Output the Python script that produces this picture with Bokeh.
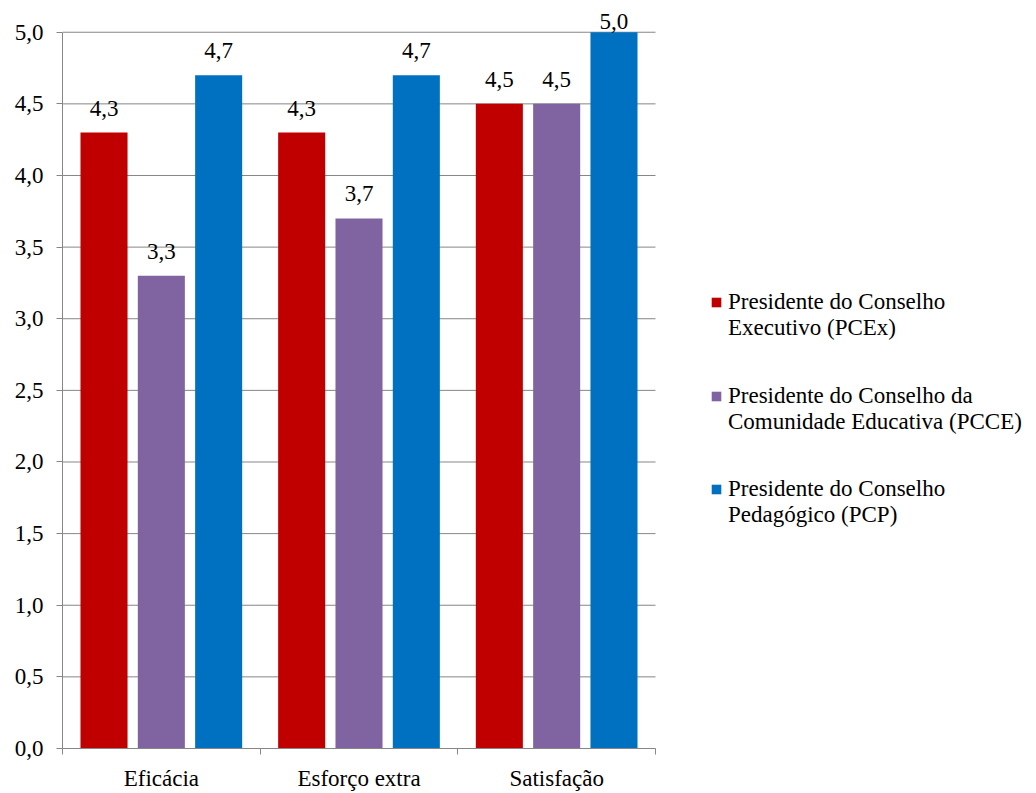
from bokeh.plotting import figure
from bokeh.models import (ColumnDataSource, Range1d, FixedTicker, LabelSet,
                          Legend, LegendItem)
from bokeh.transform import dodge
from bokeh.embed import file_html
from bokeh.resources import INLINE

# Dimensions of leadership outcome and mean scores per respondent group
categories = ["Eficácia", "Esforço extra", "Satisfação"]
series_names = [
    ["Presidente do Conselho", "Executivo (PCEx)"],
    ["Presidente do Conselho da", "Comunidade Educativa (PCCE)"],
    ["Presidente do Conselho", "Pedagógico (PCP)"],
]
pcex = [4.3, 4.3, 4.5]
pcce = [3.3, 3.7, 4.5]
pcp = [4.7, 4.7, 5.0]
colors = ["#C00000", "#8064A2", "#0070C0"]
y_ticks = [0.0, 0.5, 1.0, 1.5, 2.0, 2.5, 3.0, 3.5, 4.0, 4.5, 5.0]

FONT = "'Liberation Serif', 'Times New Roman', serif"
FSIZE = "23px"
GRID = "#868686"

W, H = 1036, 793
LEFT, BOTTOM = 62, 39          # room for the tick labels
AX_W, AX_H = 593, 722          # drawn extent of the value axes
YMAX = 5.0
NCAT = len(categories)

def fmt(v):
    return f"{v:.1f}".replace(".", ",")

px_x = AX_W / NCAT
px_y = AX_H / YMAX
xpos = [i + 0.5 for i in range(NCAT)]

# The frame spans the whole canvas so labels and legend are not clipped;
# axis bounds limit the drawn chart area.
p = figure(width=W, height=H, output_backend="svg", toolbar_location=None,
           x_range=Range1d(0, (W - LEFT) / px_x),
           y_range=Range1d(0, (H - BOTTOM) / px_y),
           min_border_left=LEFT, min_border_right=0, min_border_top=0,
           min_border_bottom=BOTTOM)
p.outline_line_color = None
p.background_fill_color = "white"
p.border_fill_color = "white"

# horizontal gridlines across the category span only
p.xgrid.grid_line_color = None
p.ygrid.grid_line_color = None
p.segment(x0=[0] * len(y_ticks), x1=[NCAT] * len(y_ticks), y0=y_ticks, y1=y_ticks,
          line_color=GRID, line_width=1, level="underlay")

top_room = (H - BOTTOM) - AX_H   # pixels above the top gridline

def label_offset(v):
    # value labels float above the bar unless that would leave the chart
    space = (YMAX - v) * px_y + top_room
    return 17 if space >= 45 else space - 29

offsets = [-0.29, 0.0, 0.29]
bar_w = 0.238
bars = []
for vals, col, off in zip([pcex, pcce, pcp], colors, offsets):
    src = ColumnDataSource(dict(x=xpos, top=vals, lab=[fmt(v) for v in vals],
                                yoff=[label_offset(v) for v in vals]))
    r = p.vbar(x=dodge("x", off, range=p.x_range), top="top", width=bar_w,
               source=src, fill_color=col, line_color=None)
    bars.append(r)
    p.add_layout(LabelSet(x=dodge("x", off, range=p.x_range), y="top", text="lab",
                          source=src, text_align="center",
                          text_baseline="alphabetic", y_offset="yoff",
                          text_font=FONT, text_font_size=FSIZE,
                          text_color="black"))

# y axis
p.yaxis.bounds = (0, YMAX)
p.yaxis.ticker = FixedTicker(ticks=y_ticks)
p.yaxis.major_label_overrides = {t: fmt(t) for t in y_ticks}
p.yaxis.major_label_text_font = FONT
p.yaxis.major_label_text_font_size = FSIZE
p.yaxis.major_label_text_color = "black"
p.yaxis.axis_line_color = GRID
p.yaxis.major_tick_line_color = GRID
p.yaxis.major_tick_out = 6
p.yaxis.major_tick_in = 0
p.yaxis.minor_tick_line_color = None
p.yaxis.major_label_standoff = 13

# x axis: labels at category centres, tick marks at category boundaries
p.xaxis.bounds = (0, NCAT)
p.xaxis.ticker = FixedTicker(ticks=xpos, minor_ticks=list(range(NCAT + 1)))
p.xaxis.major_label_overrides = {x: c for x, c in zip(xpos, categories)}
p.xaxis.major_label_text_font = FONT
p.xaxis.major_label_text_font_size = FSIZE
p.xaxis.major_label_text_color = "black"
p.xaxis.axis_line_color = GRID
p.xaxis.major_tick_line_color = None
p.xaxis.minor_tick_line_color = GRID
p.xaxis.minor_tick_out = 6
p.xaxis.minor_tick_in = 0
p.xaxis.major_label_standoff = 11

# legend: one block per series, swatch beside the first line of its label
blank = p.vbar(x=[], top=[], width=0, fill_alpha=0, line_alpha=0)
legend_bottoms = [407, 313, 220]
for r, lines, yb in zip(bars, series_names, legend_bottoms):
    lg = Legend(items=[LegendItem(label=lines[0], renderers=[r]),
                       LegendItem(label=lines[1], renderers=[blank])],
                location=(648, yb), orientation="vertical",
                glyph_width=12, glyph_height=12, label_standoff=6,
                label_height=26, spacing=0, padding=0, margin=0,
                border_line_color=None, background_fill_alpha=0,
                label_text_font=FONT, label_text_font_size=FSIZE,
                label_text_color="black")
    p.add_layout(lg, "center")

open("out.html", "w").write(file_html(p, INLINE))
